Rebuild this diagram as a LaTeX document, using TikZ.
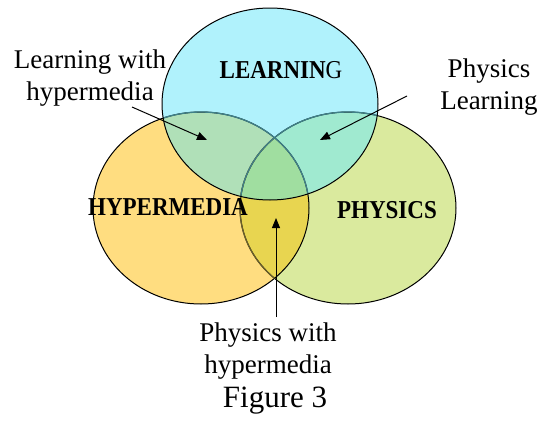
\documentclass[tikz,border=0pt]{standalone}
\usepackage{fontspec}
\setmainfont{Liberation Serif}
\usepackage{tikz}
\usetikzlibrary{arrows.meta, positioning}
\definecolor{cLearn}{HTML}{B0F2FC}
\definecolor{cHyper}{HTML}{FFDD80}
\definecolor{cPhys}{HTML}{DAEA9E}
\definecolor{cLH}{HTML}{B0E0B8}
\definecolor{cLP}{HTML}{A0EAD0}
\definecolor{cHP}{HTML}{E8D550}
\definecolor{cLHP}{HTML}{A0DEA0}
\definecolor{cUnder}{HTML}{3F8088}
\definecolor{cOlive}{HTML}{6A5F2A}
\def\lrn{(270,104) ellipse [x radius=108pt, y radius=96pt]}
\def\hyp{(201,208) ellipse [x radius=108pt, y radius=96pt]}
\def\phy{(348,208) ellipse [x radius=108pt, y radius=96pt]}
\newcommand{\tall}[1]{\scalebox{1}[1.12]{#1}}
\begin{document}
\begin{tikzpicture}[x=1pt, y=-1pt,
      rim/.style={draw=black, line width=1pt},
      under/.style={draw=cUnder, line width=1.3pt},
      big/.style={font=\fontsize{23}{26}\selectfont\bfseries, inner sep=0pt},
      lbl/.style={font=\fontsize{27}{32}\selectfont, align=center, inner sep=0pt},
      ptr/.style={-{Triangle[length=10pt, width=8pt]}, line width=1pt}]
    \useasboundingbox (0,0) rectangle (539,421);
    % sets
    \fill[cHyper] \hyp;
    \fill[cPhys] \phy;
    \fill[cLearn] \lrn;
    \begin{scope}
      \clip \hyp;
      \fill[cHP] \phy;
    \end{scope}
    \begin{scope}
      \clip \lrn;
      \fill[cLH] \hyp;
      \fill[cLP] \phy;
      \clip \hyp;
      \fill[cLHP] \phy;
    \end{scope}
    % rims
    \draw[rim] \hyp;
    \draw[rim] \phy;
    \begin{scope}
      \clip \hyp;
      \draw[draw=cOlive, line width=1.3pt] \phy;
    \end{scope}
    \begin{scope}
      \clip \lrn;
      \draw[under] \hyp;
      \draw[under] \phy;
    \end{scope}
    \draw[rim] \lrn;
    % set names
    \node[big] (learn) at (281,70) {\tall{LEARNIN\textmd{G}}};
    \node[big] (hyper) at (168,207) {\tall{HYPERMEDIA}};
    \node[big] (phys) at (387,210) {\tall{PHYSICS}};
    % labels
    \node[lbl] (lwh) at (90,78) {Learning with\\hypermedia};
    \node[lbl] (pl) at (489,87) {Physics\\Learning};
    \node[lbl] (pwh) at (268,351) {Physics with\\hypermedia};
    \node[font=\fontsize{31}{36}\selectfont, inner sep=0pt] (fig) at (275,401) {Figure 3};
    % pointers
    \coordinate (lwhS) at (132,107);
    \coordinate (lwhE) at (207,140);
    \coordinate (plS) at (407,96);
    \coordinate (plE) at (320,140);
    \coordinate (pwhS) at (276,317);
    \coordinate (pwhE) at (276,218);
    \draw[ptr] (lwhS) -- (lwhE);
    \draw[ptr] (plS) -- (plE);
    \draw[ptr] (pwhS) -- (pwhE);
  \end{tikzpicture}
\end{document}
